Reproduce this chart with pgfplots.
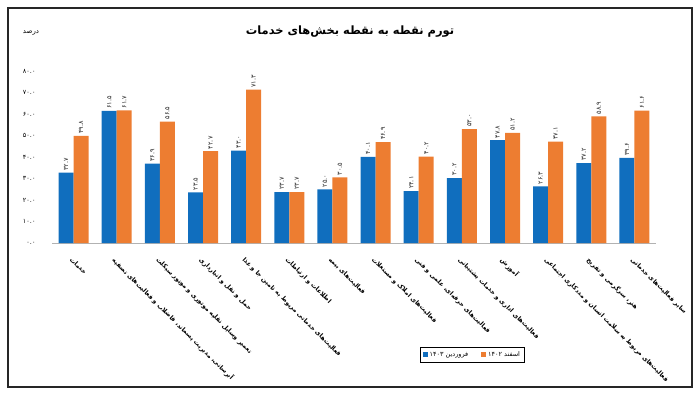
\documentclass[border=0pt]{standalone}
\usepackage{fontspec}
\usepackage{pgfplots}
\pgfplotsset{compat=1.18}
\TeXXeTstate=1
\newfontfamily\fa[Script=Arabic]{DejaVu Sans}
\definecolor{cblue}{RGB}{16,110,190}
\definecolor{corange}{RGB}{237,125,49}
\begin{document}
\begin{tikzpicture}[font=\fa]
\useasboundingbox (0,0) rectangle (700bp,-393bp);
\draw[line width=1.3bp, black!85] (8bp,-8bp) rectangle (692bp,-387bp);
\node[font=\fa\bfseries\fontsize{11.5}{13}\selectfont] at (350bp,-32bp) {\beginR تورم نقطه به نقطه بخش‌های خدمات\endR};
\node[font=\fa\fontsize{7}{8}\selectfont] at (31bp,-33bp) {\beginR درصد\endR};
\begin{axis}[
  at={(52bp,-243bp)}, anchor=south west,
  scale only axis, width=604bp, height=172bp,
  xmin=-0.5, xmax=13.5, ymin=0, ymax=80,
  clip=false,
  ybar=0pt, bar width=15bp,
  axis x line*=bottom, axis y line*=left,
  x axis line style={draw=black!30, line width=0.8bp},
  y axis line style={draw=none},
  xtick={0,...,13}, xtick style={draw=none},
  ytick={0,10,...,80}, ytick style={draw=none},
  yticklabels={۰.۰,۱۰.۰,۲۰.۰,۳۰.۰,۴۰.۰,۵۰.۰,۶۰.۰,۷۰.۰,۸۰.۰},
  yticklabel style={font=\fa\fontsize{6.5}{8}\selectfont, anchor=east, xshift=-13bp},
  xticklabels={
    {\beginR خدمات\endR},
    {\beginR آبرسانی، مدیریت پسماند، فاضلاب و فعالیت‌های تصفیه\endR},
    {\beginR تعمیر وسایل نقلیه موتوری و موتور  سیکلت\endR},
    {\beginR حمل و نقل و انبارداری\endR},
    {\beginR فعالیت‌های خدماتی مربوط به تامین جا و غذا\endR},
    {\beginR اطلاعات و ارتباطات\endR},
    {\beginR فعالیت‌های بیمه\endR},
    {\beginR فعالیت‌های املاک و مستغلات\endR},
    {\beginR فعالیت‌های حرفه‌ای، علمی و فنی\endR},
    {\beginR فعالیت‌های اداری و خدمات پشتیبانی\endR},
    {\beginR آموزش\endR},
    {\beginR فعالیت‌های مربوط به سلامت انسان و مددکاری اجتماعی\endR},
    {\beginR هنر، سرگرمی و تفریح\endR},
    {\beginR سایر فعالیت‌های خدماتی\endR}},
  xticklabel style={font=\fa\bfseries\fontsize{6.3}{8}\selectfont, rotate=-45, anchor=north west, inner sep=1pt, yshift=-6bp, xshift=5bp},
  nodes near coords, point meta=explicit symbolic,
  nodes near coords style={font=\fa\fontsize{6.5}{8}\selectfont, rotate=90, anchor=west, inner sep=2pt, black!85},
  legend style={at={(0.696,-0.651)}, anchor=center, legend columns=2, draw=black, line width=0.8bp,
    font=\fa\fontsize{6.5}{8}\selectfont, inner sep=2.5pt, /tikz/every even column/.append style={column sep=11bp}},
  legend image code/.code={\draw[#1,draw=none] (0bp,-2.5bp) rectangle (5bp,2.5bp);},
]
\addplot[fill=cblue, draw=none] coordinates {
 (0,32.7) [۳۲.۷] (1,61.5) [۶۱.۵] (2,36.9) [۳۶.۹] (3,23.5) [۲۳.۵] (4,43.0) [۴۳.۰]
 (5,23.7) [۲۳.۷] (6,25.0) [۲۵.۰] (7,40.1) [۴۰.۱] (8,24.1) [۲۴.۱] (9,30.2) [۳۰.۲]
 (10,47.8) [۴۷.۸] (11,26.3) [۲۶.۳] (12,37.2) [۳۷.۲] (13,39.6) [۳۹.۶]};
\addlegendentry{\beginR فروردین ۱۴۰۳\endR}
\addplot[fill=corange, draw=none] coordinates {
 (0,49.8) [۴۹.۸] (1,61.7) [۶۱.۷] (2,56.5) [۵۶.۵] (3,42.7) [۴۲.۷] (4,71.3) [۷۱.۳]
 (5,23.7) [۲۳.۷] (6,30.5) [۳۰.۵] (7,46.9) [۴۶.۹] (8,40.2) [۴۰.۲] (9,53.0) [۵۳.۰]
 (10,51.2) [۵۱.۲] (11,47.1) [۴۷.۱] (12,58.9) [۵۸.۹] (13,61.6) [۶۱.۶]};
\addlegendentry{\beginR اسفند ۱۴۰۲\endR}
\end{axis}
\end{tikzpicture}
\end{document}
